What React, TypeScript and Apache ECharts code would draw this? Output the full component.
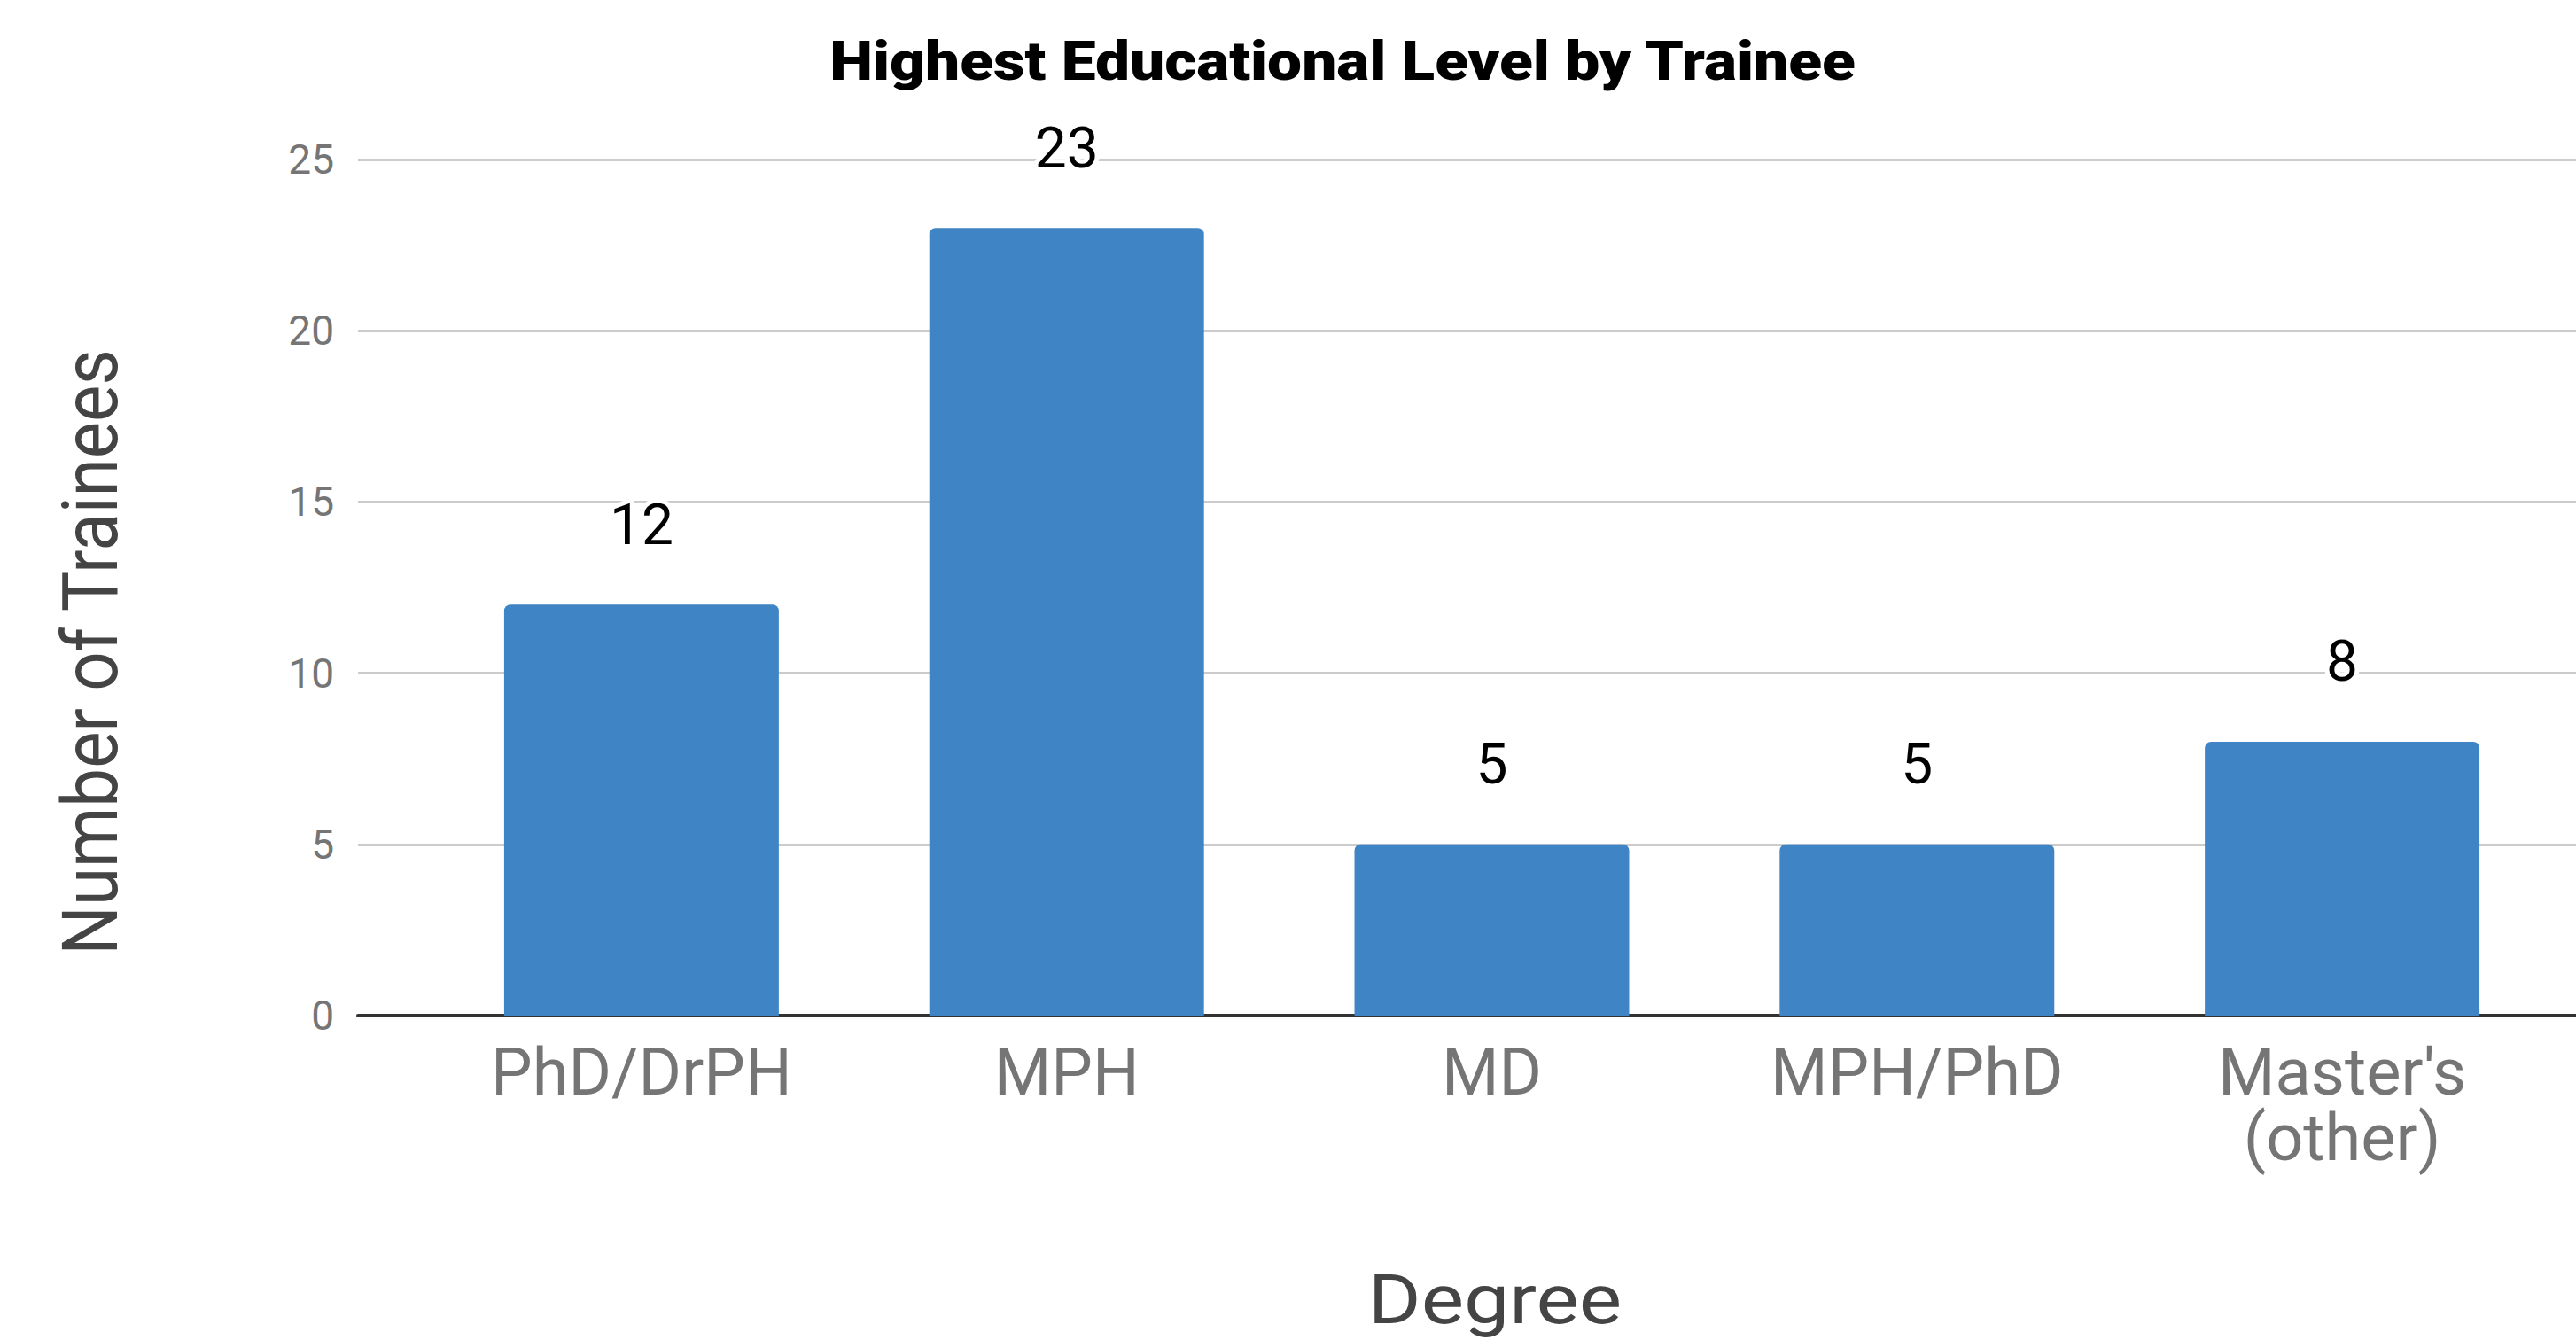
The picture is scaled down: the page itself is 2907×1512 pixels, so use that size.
import React, { useEffect, useRef } from "react";
import * as echarts from "echarts";

const chartTitle = "Highest Educational Level by Trainee";
const xAxisTitle = "Degree";
const yAxisTitle = "Number of Trainees";
const categories = ["PhD/DrPH", "MPH", "MD", "MPH/PhD", "Master's\n(other)"];
const traineeCounts = [12, 23, 5, 5, 8];
const yTicks = [0, 5, 10, 15, 20, 25];

export default function App() {
  const ref = useRef<HTMLDivElement>(null);

  useEffect(() => {
    if (!ref.current) return;
    const chart = echarts.init(ref.current, null, { renderer: "svg" });
    const yMin = yTicks[0];
    const yMax = yTicks[yTicks.length - 1];
    const yStep = yTicks[1] - yTicks[0];

    chart.setOption({
      animation: false,
      backgroundColor: "#ffffff",
      textStyle: { fontFamily: "Roboto" },
      grid: [
        { left: 404, right: 0, top: 180, bottom: 366 },
        { left: 484, right: 24, top: 180, bottom: 366 },
      ],
      xAxis: [
        {
          gridIndex: 0,
          type: "value",
          min: 0,
          max: 1,
          axisLine: { show: true, lineStyle: { color: "#333333", width: 4 } },
          axisTick: { show: false },
          axisLabel: { show: false },
          splitLine: { show: false },
        },
        {
          gridIndex: 1,
          type: "category",
          data: categories,
          axisLine: { show: false },
          axisTick: { show: false },
          axisLabel: {
            interval: 0,
            color: "#757575",
            fontFamily: "Roboto",
            fontSize: 74,
            lineHeight: 74,
            margin: 26,
          },
        },
      ],
      yAxis: [
        {
          gridIndex: 0,
          type: "value",
          min: yMin,
          max: yMax,
          interval: yStep,
          axisLine: { show: false },
          axisTick: { show: false },
          axisLabel: {
            color: "#757575",
            fontFamily: "Roboto",
            fontSize: 46,
            margin: 27,
          },
          splitLine: { lineStyle: { color: "#cccccc", width: 3 } },
        },
        {
          gridIndex: 1,
          type: "value",
          min: yMin,
          max: yMax,
          interval: yStep,
          show: false,
          splitLine: { show: false },
        },
      ],
      series: [
        {
          type: "bar",
          xAxisIndex: 1,
          yAxisIndex: 1,
          data: traineeCounts,
          barCategoryGap: "35.4%",
          itemStyle: { color: "#3F84C5", borderRadius: [7, 7, 0, 0] },
          label: {
            show: true,
            position: "top",
            distance: 58,
            color: "#000000",
            fontFamily: "Roboto",
            fontSize: 64,
            textBorderColor: "#ffffff",
            textBorderWidth: 10,
          },
        },
      ],
      graphic: [
        {
          type: "text",
          x: 1515,
          y: 69,
          scaleX: 1.12,
          style: {
            text: chartTitle,
            fontFamily: "Roboto",
            fontWeight: 900,
            fontSize: 62,
            fill: "#000000",
            textAlign: "center",
            textVerticalAlign: "middle",
          },
        },
        {
          type: "text",
          x: 1687,
          y: 1466,
          scaleX: 1.17,
          style: {
            text: xAxisTitle,
            fontFamily: "Roboto",
            fontSize: 78,
            fill: "#444444",
            textAlign: "center",
            textVerticalAlign: "middle",
          },
        },
        {
          type: "text",
          x: 102,
          y: 736,
          rotation: Math.PI / 2,
          scaleY: 1.12,
          style: {
            text: yAxisTitle,
            fontFamily: "Roboto",
            fontSize: 78,
            fill: "#444444",
            textAlign: "center",
            textVerticalAlign: "middle",
          },
        },
      ],
    });

    return () => {
      chart.dispose();
    };
  }, []);

  return (
    <div
      ref={ref}
      style={{ position: "absolute", left: 0, top: 0, width: 2907, height: 1512 }}
    />
  );
}
